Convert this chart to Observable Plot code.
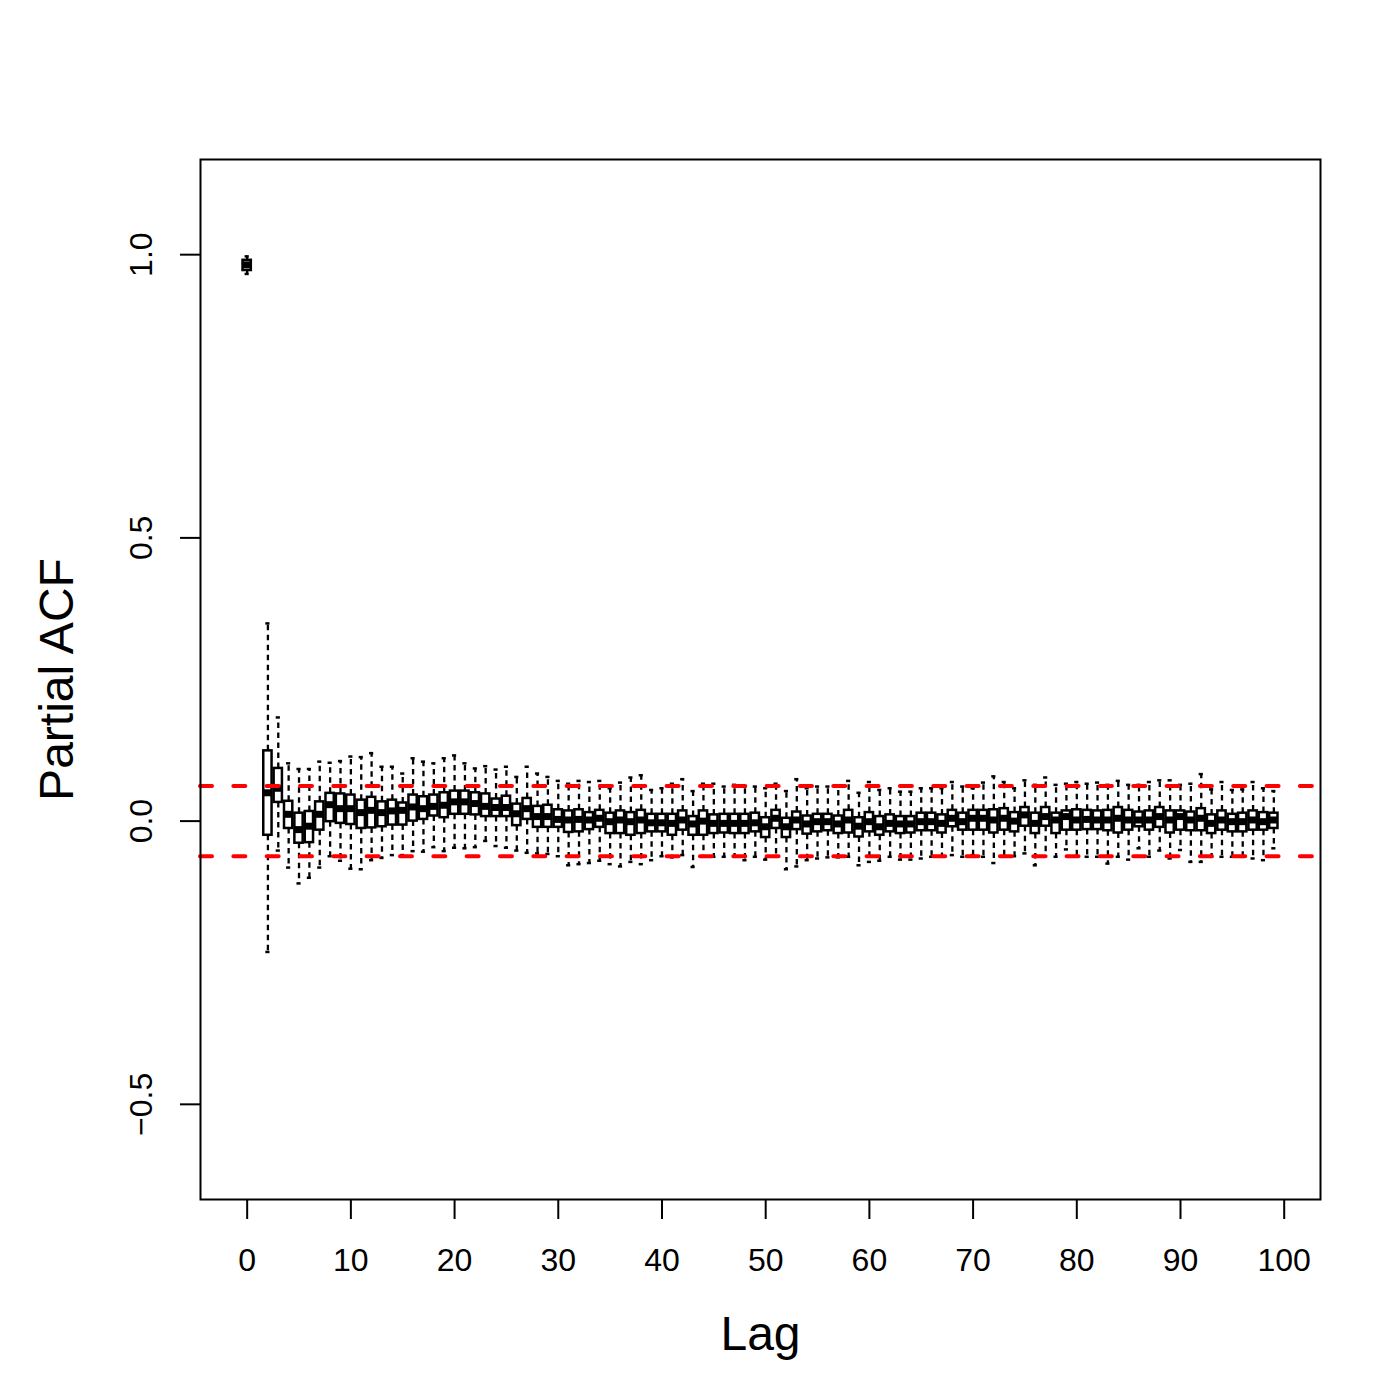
<!DOCTYPE html>
<html>
<head>
<meta charset="utf-8">
<script src="https://cdn.jsdelivr.net/npm/d3@7"></script>
<script src="https://cdn.jsdelivr.net/npm/@observablehq/plot@0.6"></script>
<style>
  html, body { margin: 0; padding: 0; background: white; }
</style>
</head>
<body>
<div id="chart"></div>
<script>
// ---- Data ----
const lags = [0, 2, 3, 4, 5, 6, 7, 8, 9, 10, 11, 12, 13, 14, 15, 16, 17, 18, 19, 20,
  21, 22, 23, 24, 25, 26, 27, 28, 29, 30, 31, 32, 33, 34, 35, 36, 37, 38, 39, 40,
  41, 42, 43, 44, 45, 46, 47, 48, 49, 50, 51, 52, 53, 54, 55, 56, 57, 58, 59, 60,
  61, 62, 63, 64, 65, 66, 67, 68, 69, 70, 71, 72, 73, 74, 75, 76, 77, 78, 79, 80,
  81, 82, 83, 84, 85, 86, 87, 88, 89, 90, 91, 92, 93, 94, 95, 96, 97, 98, 99];

const whiskerLow = [0.966, -0.231, -0.052, -0.082, -0.110, -0.100, -0.082, -0.062, -0.070, -0.084,
  -0.085, -0.069, -0.065, -0.060, -0.060, -0.053, -0.054, -0.046, -0.053, -0.047,
  -0.048, -0.046, -0.035, -0.044, -0.047, -0.052, -0.056, -0.057, -0.058, -0.062,
  -0.078, -0.076, -0.074, -0.070, -0.076, -0.080, -0.072, -0.076, -0.069, -0.062,
  -0.064, -0.060, -0.081, -0.063, -0.063, -0.063, -0.063, -0.069, -0.063, -0.068,
  -0.063, -0.085, -0.080, -0.069, -0.066, -0.064, -0.064, -0.063, -0.078, -0.072,
  -0.070, -0.063, -0.068, -0.068, -0.066, -0.063, -0.063, -0.060, -0.063, -0.060,
  -0.063, -0.074, -0.062, -0.062, -0.057, -0.078, -0.062, -0.063, -0.050, -0.062,
  -0.063, -0.063, -0.075, -0.063, -0.068, -0.048, -0.063, -0.052, -0.066, -0.051,
  -0.072, -0.072, -0.063, -0.063, -0.063, -0.063, -0.066, -0.069, -0.048];

const lowerQuartile = [0.972, -0.025, 0.033, -0.013, -0.039, -0.038, -0.016, -0.001, -0.004, -0.006,
  -0.013, -0.012, -0.010, -0.007, -0.007, 0.000, 0.003, 0.009, 0.006, 0.012,
  0.012, 0.011, 0.008, 0.008, 0.008, -0.008, 0.003, -0.011, -0.011, -0.011,
  -0.020, -0.019, -0.015, -0.011, -0.022, -0.022, -0.025, -0.022, -0.019, -0.019,
  -0.025, -0.016, -0.025, -0.025, -0.022, -0.021, -0.022, -0.022, -0.019, -0.029,
  -0.013, -0.029, -0.015, -0.023, -0.019, -0.017, -0.022, -0.021, -0.028, -0.019,
  -0.025, -0.019, -0.022, -0.021, -0.017, -0.017, -0.021, -0.010, -0.016, -0.016,
  -0.016, -0.021, -0.016, -0.019, -0.009, -0.022, -0.009, -0.022, -0.016, -0.016,
  -0.015, -0.015, -0.017, -0.021, -0.016, -0.010, -0.016, -0.011, -0.021, -0.016,
  -0.017, -0.017, -0.022, -0.016, -0.019, -0.019, -0.016, -0.016, -0.013];

const medians = [0.982, 0.050, 0.058, 0.012, -0.015, -0.009, 0.012, 0.029, 0.022, 0.022,
  0.015, 0.019, 0.015, 0.018, 0.019, 0.025, 0.022, 0.026, 0.028, 0.034,
  0.034, 0.031, 0.026, 0.024, 0.024, 0.013, 0.022, 0.008, 0.008, 0.003,
  0.002, 0.003, 0.002, 0.005, -0.001, 0.002, -0.001, 0.002, -0.003, -0.003,
  -0.004, 0.002, -0.005, 0.000, -0.004, -0.004, -0.004, -0.004, -0.003, -0.010,
  0.005, -0.010, 0.002, -0.005, -0.001, -0.001, -0.005, 0.002, -0.009, -0.001,
  -0.010, -0.004, -0.005, -0.005, -0.001, -0.001, -0.004, 0.005, -0.001, 0.005,
  0.005, 0.002, 0.005, 0.000, 0.011, -0.004, 0.008, 0.002, 0.008, 0.002,
  0.003, 0.002, 0.002, 0.005, 0.002, 0.002, 0.002, 0.008, 0.002, 0.008,
  0.002, 0.005, -0.004, 0.002, -0.001, -0.001, 0.002, -0.001, 0.002];

const upperQuartile = [0.990, 0.124, 0.093, 0.035, 0.014, 0.017, 0.034, 0.049, 0.048, 0.046,
  0.037, 0.042, 0.034, 0.037, 0.032, 0.046, 0.043, 0.046, 0.050, 0.053,
  0.053, 0.050, 0.048, 0.039, 0.044, 0.030, 0.040, 0.026, 0.028, 0.020,
  0.018, 0.020, 0.015, 0.019, 0.014, 0.018, 0.015, 0.019, 0.012, 0.012,
  0.012, 0.018, 0.008, 0.018, 0.011, 0.012, 0.012, 0.012, 0.014, 0.006,
  0.019, 0.005, 0.016, 0.009, 0.012, 0.012, 0.009, 0.019, 0.006, 0.015,
  0.008, 0.011, 0.008, 0.008, 0.014, 0.014, 0.011, 0.019, 0.014, 0.019,
  0.019, 0.020, 0.022, 0.015, 0.024, 0.014, 0.024, 0.014, 0.018, 0.020,
  0.019, 0.018, 0.019, 0.024, 0.019, 0.016, 0.018, 0.024, 0.018, 0.018,
  0.016, 0.022, 0.011, 0.018, 0.012, 0.014, 0.018, 0.015, 0.014];

const whiskerHigh = [0.997, 0.349, 0.183, 0.102, 0.092, 0.092, 0.105, 0.103, 0.106, 0.114,
  0.113, 0.120, 0.096, 0.096, 0.084, 0.111, 0.105, 0.102, 0.111, 0.116,
  0.102, 0.093, 0.097, 0.091, 0.096, 0.078, 0.096, 0.084, 0.078, 0.071,
  0.066, 0.071, 0.069, 0.071, 0.058, 0.068, 0.077, 0.081, 0.055, 0.058,
  0.066, 0.074, 0.053, 0.066, 0.066, 0.061, 0.064, 0.061, 0.061, 0.058,
  0.066, 0.053, 0.074, 0.058, 0.061, 0.061, 0.061, 0.071, 0.050, 0.069,
  0.055, 0.058, 0.052, 0.052, 0.058, 0.058, 0.058, 0.069, 0.061, 0.058,
  0.068, 0.079, 0.069, 0.058, 0.072, 0.064, 0.077, 0.064, 0.066, 0.069,
  0.066, 0.068, 0.064, 0.071, 0.064, 0.064, 0.069, 0.072, 0.072, 0.064,
  0.066, 0.083, 0.056, 0.069, 0.055, 0.056, 0.069, 0.058, 0.053];

const confidenceBounds = [-0.062, 0.062];
const xTicks = [0, 10, 20, 30, 40, 50, 60, 70, 80, 90, 100];
const yTicks = [-0.5, 0.0, 0.5, 1.0];
const xLabel = "Lag";
const yLabel = "Partial ACF";

// ---- Build table ----
const rows = lags.map((lag, i) => ({
  lag, lo: whiskerLow[i], q1: lowerQuartile[i], med: medians[i], q3: upperQuartile[i], hi: whiskerHigh[i]
}));

const halfBox = 0.4;
const halfStaple = 0.2;

const chart = Plot.plot({
  width: 1400,
  height: 1400,
  marginTop: 159,
  marginBottom: 201,
  marginLeft: 200,
  marginRight: 80,
  style: { fontFamily: "'Liberation Sans', Arial, Helvetica, sans-serif", background: "white", color: "black" },
  x: { domain: [-4.5, 103.5] },
  y: { domain: [-0.668, 1.168] },
  marks: [
    // whiskers (dashed)
    Plot.ruleX(rows, { x: "lag", y1: "q3", y2: "hi", stroke: "black", strokeWidth: 2.3, strokeDasharray: "5.5,4.5" }),
    Plot.ruleX(rows, { x: "lag", y1: "q1", y2: "lo", stroke: "black", strokeWidth: 2.3, strokeDasharray: "5.5,4.5" }),
    // staples
    Plot.ruleY(rows, { y: "hi", x1: d => d.lag - halfStaple, x2: d => d.lag + halfStaple, stroke: "black", strokeWidth: 2.5 }),
    Plot.ruleY(rows, { y: "lo", x1: d => d.lag - halfStaple, x2: d => d.lag + halfStaple, stroke: "black", strokeWidth: 2.5 }),
    // boxes
    Plot.rect(rows, { x1: d => d.lag - halfBox, x2: d => d.lag + halfBox, y1: "q1", y2: "q3", fill: "white", stroke: "black", strokeWidth: 2.5 }),
    // medians
    Plot.ruleY(rows, { y: "med", x1: d => d.lag - halfBox, x2: d => d.lag + halfBox, stroke: "black", strokeWidth: 7 }),
    // confidence bounds
    Plot.ruleY(confidenceBounds, { stroke: "#ff0000", strokeWidth: 4, strokeDasharray: "12,21.33", strokeLinecap: "round" }),
    Plot.frame({ stroke: "black", strokeWidth: 2 }),
    Plot.axisX({ ticks: xTicks, tickSize: 20, tickPadding: 29, fontSize: 32, label: null, strokeWidth: 2, tickFormat: d3.format("d") }),
    Plot.axisY({ ticks: yTicks, tickSize: 20, tickRotate: -90, tickPadding: 29, fontSize: 32, label: null, strokeWidth: 2, tickFormat: d3.format(".1f") }),
    Plot.text([xLabel], { frameAnchor: "bottom", dy: 150, fontSize: 48, text: d => d, fill: "black", textAnchor: "middle" }),
    Plot.text([yLabel], { frameAnchor: "left", dx: -143, rotate: -90, fontSize: 48, text: d => d, fill: "black", textAnchor: "middle" })
  ]
});

document.getElementById("chart").appendChild(chart);
</script>
</body>
</html>
